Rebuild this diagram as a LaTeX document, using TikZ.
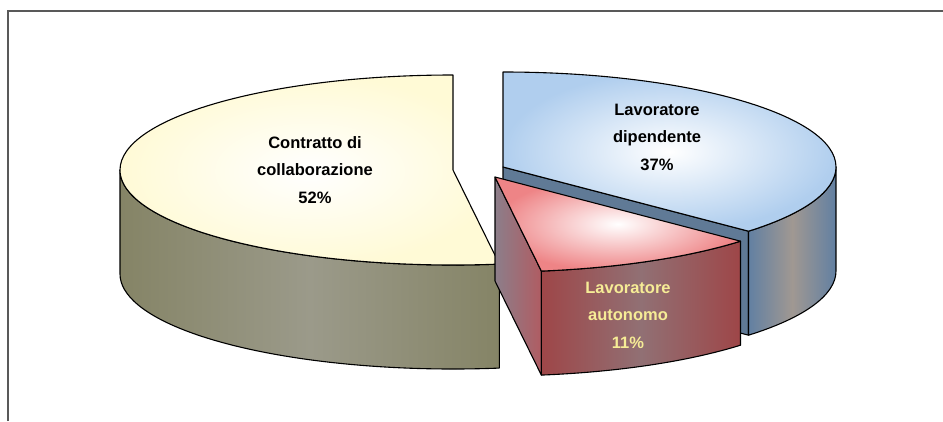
\documentclass[tikz,border=0pt]{standalone}
\usepackage{fontspec}
\setmainfont{Liberation Sans}
\usepackage{tikz}
\definecolor{colltop}{RGB}{255,250,214}
\definecolor{collside}{RGB}{133,132,102}
\definecolor{collmid}{RGB}{155,154,138}
\definecolor{diptop}{RGB}{176,206,238}
\definecolor{dipside}{RGB}{98,128,162}
\definecolor{dipmid}{RGB}{160,152,146}
\definecolor{dipface}{RGB}{96,122,150}
\definecolor{auttop}{RGB}{238,132,134}
\definecolor{autfront}{RGB}{158,70,72}
\definecolor{autmid}{RGB}{145,112,116}
\definecolor{autleft}{RGB}{140,126,138}
\definecolor{autright}{RGB}{176,92,98}
\definecolor{auttext}{RGB}{246,236,150}
\tikzstyle{slice} = [draw=black, line width=1.1pt, line join=round]
\tikzstyle{rim} = [x radius=333, y radius=95]
\tikzstyle{pietext} = [font=\bfseries\fontsize{16.5}{27.5}\selectfont, align=center, text=black]
\tikzstyle{chartframe} = [draw=black!65, line width=1.5pt]

\begin{document}
\begin{tikzpicture}[x=1pt, y=1pt]
  \useasboundingbox (0,0) rectangle (943,-421);
  \draw[chartframe] (8,-421) -- (8,-11) -- (943,-11);

  \coordinate (collc) at (453,-170);
  \coordinate (dipc) at (503,-167);
  \coordinate (autc) at (495,-177);
  \path (collc) ++(180:333 and 95) coordinate (collw);
  \path (dipc) ++(0:333 and 95) coordinate (dipe);
  \path (dipc) ++(-42.5:333 and 95) coordinate (dipcut);
  \path (autc) ++(-82:333 and 95) coordinate (autl);

  % Contratto di collaborazione
  \draw[slice, left color=collside, right color=collside, middle color=collmid]
    (collw) arc[rim, start angle=180, end angle=278] -- ++(0,-104)
    arc[rim, start angle=278, end angle=180] -- cycle;
  \draw[slice, inner color=white, outer color=colltop]
    (collc) -- ++(0,95) arc[rim, start angle=90, end angle=278] -- cycle;

  % Lavoratore dipendente
  \draw[slice, fill=dipface] (dipc) -- (dipcut) -- ++(0,-104) -- ++(-42.5:-333 and -95) -- cycle;
  \draw[slice, left color=dipside, right color=dipside, middle color=dipmid]
    (dipe) arc[rim, start angle=0, end angle=-42.5] -- ++(0,-104)
    arc[rim, start angle=-42.5, end angle=0] -- cycle;
  \draw[slice, inner color=white, outer color=diptop]
    (dipc) -- ++(0,95) arc[rim, start angle=90, end angle=-42.5] -- cycle;

  % Lavoratore autonomo
  \draw[slice, left color=autleft, right color=autright]
    (autc) -- (autl) -- ++(0,-104) -- ++(-82:-333 and -95) -- cycle;
  \draw[slice, left color=autfront, right color=autfront, middle color=autmid]
    (autl) arc[rim, start angle=-82, end angle=-42.5] -- ++(0,-104)
    arc[rim, start angle=-42.5, end angle=-82] -- cycle;
  \draw[slice, inner color=white, outer color=auttop]
    (autc) -- (autl) arc[rim, start angle=-82, end angle=-42.5] -- cycle;

  \node (coll) [pietext] at (315,-170) {Contratto di\\collaborazione\\52\%};
  \node (dip) [pietext] at (657,-137) {Lavoratore\\dipendente\\37\%};
  \node (aut) [pietext, text=auttext] at (628,-315) {Lavoratore\\autonomo\\11\%};
\end{tikzpicture}
\end{document}
